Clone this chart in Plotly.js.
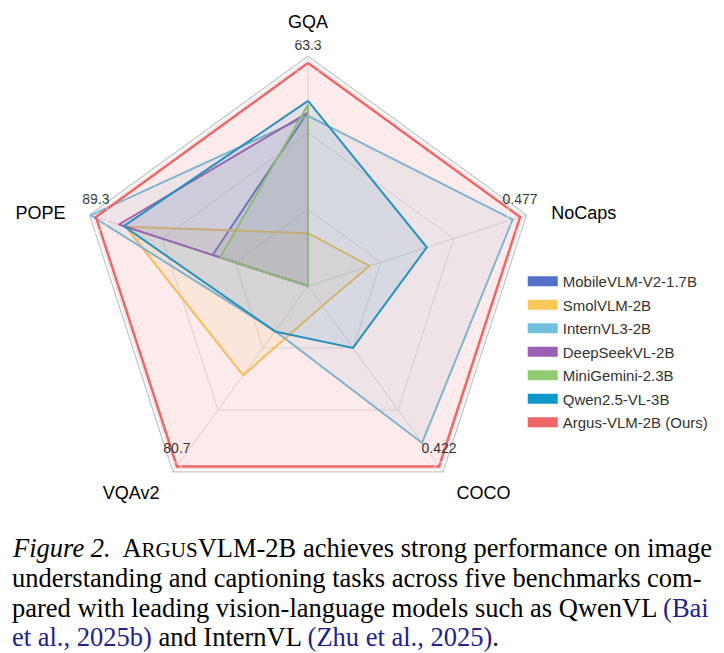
<!DOCTYPE html>
<html>
<head>
<meta charset="utf-8">
<script src="https://cdn.plot.ly/plotly-3.0.1.min.js"></script>
<style>html,body{margin:0;padding:0;background:#fff;}#chart{width:724px;height:653px;}</style>
</head>
<body>
<div id="chart"></div>
<script>
// Benchmarks (clockwise from top)
const categories = ['GQA', 'NoCaps', 'COCO', 'VQAv2', 'POPE'];
// Argus-VLM-2B raw scores shown at the outer ring
const maxLabels = ['63.3', '0.477', '0.422', '80.7', '89.3'];

// Normalised scores (Argus-VLM-2B = 1 on every axis)
const models = ['MobileVLM-V2-1.7B', 'SmolVLM-2B', 'InternVL3-2B', 'DeepSeekVL-2B', 'MiniGemini-2.3B', 'Qwen2.5-VL-3B', 'Argus-VLM-2B (Ours)'];
const mobilevlm  = [0.78, 0, 0, 0, 0.45];
const smolvlm    = [0.237, 0.29, 0.11, 0.495, 0.86];
const internvl   = [0.763, 0.965, 0.87, 0.25, 1.025];
const deepseek   = [0.777, 0, 0, 0, 0.892];
const minigemini = [0.813, 0, 0, 0, 0.414];
const qwen       = [0.83, 0.56, 0.343, 0.252, 0.869];
const argus      = [1, 1, 1, 1, 1];

const colors = ['#5470c6', '#fac858', '#73c0de', '#9a60b4', '#91cc75', '#0f97c9', '#ee6666'];

const RMAX = 1.03;
const SANS = 'Liberation Sans, Arial, sans-serif';

function rgba(hex, a) {
  const n = parseInt(hex.slice(1), 16);
  return 'rgba(' + ((n >> 16) & 255) + ',' + ((n >> 8) & 255) + ',' + (n & 255) + ',' + a + ')';
}

const series = [mobilevlm, smolvlm, internvl, deepseek, minigemini, qwen, argus];
const traces = [];
series.forEach(function (vals, i) {
  traces.push({
    type: 'scatterpolar',
    r: vals.concat([vals[0]]),
    theta: categories.concat([categories[0]]),
    mode: 'lines',
    fill: 'toself',
    fillcolor: rgba(colors[i], i === 6 ? 0.13 : 0.12),
    line: {color: colors[i], width: i === 6 ? 2.5 : 2},
    name: models[i],
    legendgroup: models[i],
    showlegend: false,
    hoverinfo: 'skip'
  });
});
// value labels on the outer ring
traces.push({
  type: 'scatterpolar',
  r: argus,
  theta: categories,
  mode: 'markers+text',
  text: maxLabels,
  textposition: 'top center',
  textfont: {size: 14, color: '#333', family: SANS},
  marker: {size: 14, color: 'rgba(0,0,0,0)'},
  cliponaxis: false,
  showlegend: false,
  hoverinfo: 'skip'
});
// benchmark names just outside the frame
traces.push({
  type: 'scatterpolar',
  r: categories.map(function () { return RMAX; }),
  theta: categories,
  mode: 'markers+text',
  text: categories,
  textposition: ['top center', 'middle right', 'bottom right', 'bottom left', 'middle left'],
  textfont: {size: 18, color: '#000', family: SANS},
  marker: {size: [36, 38, 20, 20, 37], color: 'rgba(0,0,0,0)'},
  cliponaxis: false,
  showlegend: false,
  hoverinfo: 'skip'
});
// legend keys
models.forEach(function (m, i) {
  traces.push({
    type: 'scatterpolar',
    r: [0],
    theta: [categories[0]],
    mode: 'lines',
    line: {color: colors[i], width: 14},
    name: m,
    legendgroup: m,
    showlegend: true,
    hoverinfo: 'skip'
  });
});

const capFont = {family: 'Liberation Serif, Times New Roman, serif', size: 26.5, color: '#000'};
const cite = '#22228c';
const capLines = [
  '<i>Figure 2.</i>  A<span style="font-size:21px">RGUS</span>VLM-2B achieves strong performance on image',
  'understanding and captioning tasks across five benchmarks com-',
  'pared with leading vision-language models such as QwenVL <span style="color:' + cite + '">(Bai</span>',
  '<span style="color:' + cite + '">et al., 2025b)</span> and InternVL <span style="color:' + cite + '">(Zhu et al., 2025)</span>.'
];
const capY = [548, 578, 608, 637];
const annotations = capLines.map(function (t, i) {
  return {
    text: t, xref: 'paper', yref: 'paper', x: 10 / 724, y: 1 - capY[i] / 653,
    xanchor: 'left', yanchor: 'middle', showarrow: false, align: 'left', font: capFont
  };
});

const layout = {
  width: 724, height: 653,
  margin: {l: 0, r: 0, t: 0, b: 0},
  paper_bgcolor: '#fff',
  font: {family: SANS, color: '#333'},
  showlegend: true,
  legend: {
    x: 0.722, y: 0.594, xanchor: 'left', yanchor: 'top',
    font: {size: 15, color: '#333', family: SANS},
    bgcolor: 'rgba(0,0,0,0)', tracegroupgap: 1, itemclick: false
  },
  polar: {
    domain: {x: [0.1082, 0.7427], y: [0.2103, 0.9138]},
    gridshape: 'linear',
    bgcolor: 'rgba(0,0,0,0)',
    radialaxis: {
      range: [0, RMAX], tickvals: [0.343, 0.687, 1.013], showticklabels: false,
      ticks: '', showline: false, gridcolor: '#dedede', gridwidth: 1, layer: 'below traces'
    },
    angularaxis: {
      rotation: 90, direction: 'clockwise', categoryorder: 'array', categoryarray: categories,
      ticks: '', showticklabels: false,
      showline: true, linecolor: '#c4c4c4', linewidth: 1.2,
      gridcolor: '#dcdcdc', layer: 'below traces'
    }
  },
  annotations: annotations
};

Plotly.newPlot('chart', traces, layout, {displayModeBar: false, staticPlot: true});
</script>
</body>
</html>
